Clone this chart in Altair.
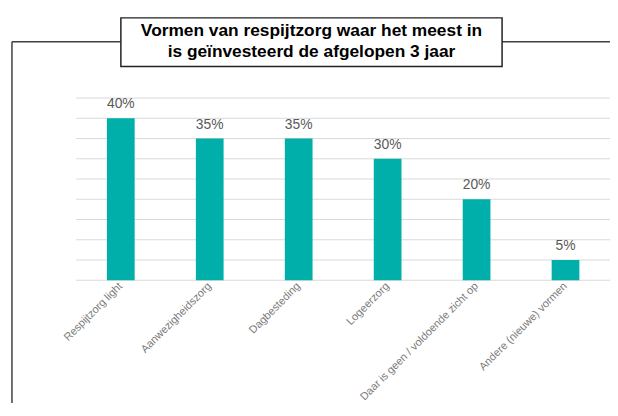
import altair as alt
import pandas as pd

categories = ["Respijtzorg light", "Aanwezigheidszorg", "Dagbesteding", "Logeerzorg",
              "Daar is geen / voldoende zicht op", "Andere (nieuwe) vormen"]
values = [40, 35, 35, 30, 20, 5]
labels = ["40%", "35%", "35%", "30%", "20%", "5%"]
title_lines = ["Vormen van respijtzorg waar het meest in", "is geïnvesteerd de afgelopen 3 jaar"]
y_ticks = [0, 5, 10, 15, 20, 25, 30, 35, 40, 45]

df = pd.DataFrame({"cat": categories, "val": values, "lab": labels})
gdf = pd.DataFrame({"g": y_ticks})

W, H = 539, 184
GRAY = "#404040"

x_enc = alt.X("cat:N", sort=None,
              scale=alt.Scale(paddingInner=0, paddingOuter=0),
              axis=alt.Axis(title=None, labelAngle=-45, labelAlign="right", labelBaseline="middle",
                            labelFont="Liberation Sans", labelFontSize=11, labelColor="#7a7a7a",
                            labelPadding=4, ticks=False, domain=False, grid=False, labelLimit=300))
yscale = alt.Scale(domain=[0, 45], nice=False)

grid = alt.Chart(gdf).mark_rule(color="#d9d9d9", strokeWidth=1).encode(
    y=alt.Y("g:Q", scale=yscale, axis=None), x=alt.value(0), x2=alt.value(W))

base = alt.Chart(df)
bars = base.mark_bar(size=28, color="#00AFA9").encode(
    x=x_enc, y=alt.Y("val:Q", scale=yscale, axis=None))
texts = base.mark_text(dy=-10, baseline="alphabetic", font="Liberation Sans", fontSize=14,
                       color="#595959").encode(
    x=x_enc, y=alt.Y("val:Q", scale=yscale, axis=None), text="lab:N")

one = alt.Chart(pd.DataFrame({"a": [0]}))
frame_left = one.mark_rule(color=GRAY, strokeWidth=1.5).encode(
    x=alt.value(-65), y=alt.value(-57), y2=alt.value(330))
frame_top1 = one.mark_rule(color=GRAY, strokeWidth=1.5).encode(
    x=alt.value(-65), x2=alt.value(45), y=alt.value(-57))
frame_top2 = one.mark_rule(color=GRAY, strokeWidth=1.5).encode(
    x=alt.value(430), x2=alt.value(545), y=alt.value(-57))
title_box = one.mark_rect(fill="white", stroke="#222222", strokeWidth=1.5).encode(
    x=alt.value(45), x2=alt.value(430), y=alt.value(-81), y2=alt.value(-32))
tdf = pd.DataFrame({"t": title_lines, "dy": [-68, -46]})
title_text = alt.Chart(tdf).mark_text(font="Liberation Sans", fontWeight="bold", fontSize=17.5,
                                      color="black", baseline="middle", align="center").encode(
    x=alt.value(237.5), y=alt.Y("dy:Q", scale=None, axis=None), text="t:N")

chart = alt.layer(grid, bars, texts, frame_left, frame_top1, frame_top2, title_box, title_text).properties(
    width=W, height=H, autosize="none",
    padding={"left": 69, "top": 89, "right": 0, "bottom": 122},
    background="white",
).configure_view(stroke=None)

chart.save("out.html", embed_options={"renderer": "svg", "actions": False})
